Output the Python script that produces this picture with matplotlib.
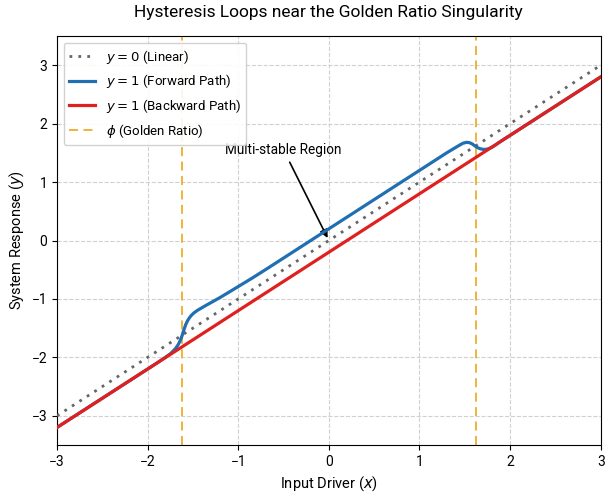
"""Hysteresis loops near the golden ratio singularity."""
import matplotlib
matplotlib.use("Agg")
import matplotlib.pyplot as plt

plt.rcParams["font.family"] = ["Roboto", "DejaVu Sans"]

PHI = 1.618

# ── Data ────────────────────────────────────────────────────────────────────
linear_x = [-3.0, 3.0]
linear_y = [-3.0, 3.0]

backward_x = [-3.0, 3.0]
backward_y = [-3.2, 2.8]

forward_x = [-3.0, -1.9, -1.8, -1.75, -1.72, -1.69, -1.66, -1.64, -1.62,
             -1.60, -1.58, -1.56, -1.54, -1.52, -1.49, -1.45, -1.40, -1.35,
             -1.28, -1.20, -1.10, -1.00, -0.85, -0.70, 1.3, 1.38, 1.44,
             1.48, 1.52, 1.55, 1.58, 1.61, 1.64, 1.67, 1.70, 1.73, 1.76,
             1.80, 1.84, 1.88, 1.95, 3.0]
forward_y = [-3.2, -2.10, -1.995, -1.94, -1.895, -1.845, -1.775, -1.71,
             -1.63, -1.53, -1.44, -1.375, -1.325, -1.285, -1.24, -1.195,
             -1.15, -1.105, -1.045, -0.975, -0.882, -0.788, -0.647, -0.50,
             1.50, 1.575, 1.63, 1.665, 1.68, 1.675, 1.655, 1.62, 1.59, 1.57,
             1.56, 1.56, 1.57, 1.595, 1.635, 1.68, 1.75, 2.80]

ticks = [-3, -2, -1, 0, 1, 2, 3]

# ── Plot ────────────────────────────────────────────────────────────────────
fig = plt.figure(figsize=(6.13, 5.0), dpi=100)
ax = fig.add_axes([0.093, 0.11, 0.887, 0.818])

ax.plot(linear_x, linear_y, ls=(0, (1, 2.2)), color="#666666", lw=2,
        label="$y = 0$ (Linear)", zorder=3)
ax.plot(forward_x, forward_y, color="#1f6fb2", lw=2.3,
        label="$y = 1$ (Forward Path)", zorder=4)
ax.plot(backward_x, backward_y, color="#e0201f", lw=2.3,
        label="$y = 1$ (Backward Path)", zorder=4)
ax.axvline(-PHI, color="#f0ad2a", ls=(0, (5, 3)), lw=1.3,
           label=r"$\phi$ (Golden Ratio)", zorder=2)
ax.axvline(PHI, color="#f0ad2a", ls=(0, (5, 3)), lw=1.3, zorder=2)

ax.annotate("Multi-stable Region", xy=(0.0, 0.0), xytext=(-0.5, 1.55),
            ha="center", va="center", fontsize=9.8,
            arrowprops=dict(arrowstyle="-|>", color="black", lw=1.2,
                            mutation_scale=12))

ax.set_xlim(-3, 3)
ax.set_ylim(-3.5, 3.5)
ax.set_xticks(ticks)
ax.set_yticks(ticks)
ax.tick_params(labelsize=10)
ax.grid(True, ls="--", color="#d0d0d0", lw=0.8)
ax.set_axisbelow(True)
ax.set_xlabel("Input Driver ($x$)", fontsize=10.5)
ax.set_ylabel("System Response ($y$)", fontsize=10.5)
ax.set_title("Hysteresis Loops near the Golden Ratio Singularity",
             fontsize=12.5, pad=14)
ax.legend(loc="upper left", fontsize=9.5, framealpha=0.9)

plt.savefig("out.png", dpi=100)
plt.close()
